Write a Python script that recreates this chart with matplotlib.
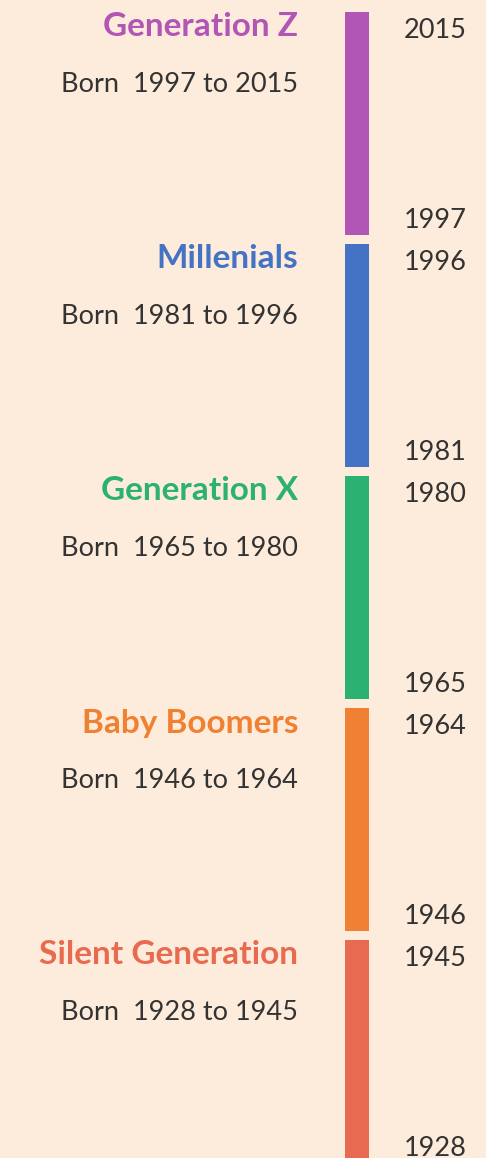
import matplotlib
matplotlib.use("Agg")
import matplotlib.pyplot as plt

# generation data (top to bottom)
generations = ["Generation Z", "Millenials", "Generation X", "Baby Boomers", "Silent Generation"]
start_years = [1997, 1981, 1965, 1946, 1928]
end_years = [2015, 1996, 1980, 1964, 1945]
colors = ["#B156B5", "#4472C4", "#2BB272", "#F08032", "#E86A50"]

bg = "#FDECDC"
text_dark = "#333333"

plt.rcParams['font.family'] = ['Lato', 'DejaVu Sans']

W, H = 486, 1158
fig = plt.figure(figsize=(W / 100, H / 100), dpi=100, facecolor=bg)
ax = fig.add_axes([0, 0, 1, 1])
ax.set_facecolor(bg)

slot = 232.0  # pixels per generation slot
ax.set_xlim(0, W)
ax.set_ylim((H - 12) / slot, -12 / slot)
ax.axis('off')

bar_x = 357
bar_w = 24
seg_h = 223 / slot

for i, name in enumerate(generations):
    ax.bar(bar_x, seg_h, width=bar_w, bottom=i, color=colors[i], align='center')
    ax.text(298, i + 15 / slot, name, ha='right', va='center',
            fontsize=24, fontweight='bold', color=colors[i])
    ax.text(298, i + 72 / slot, "Born  {} to {}".format(start_years[i], end_years[i]),
            ha='right', va='center', fontsize=19.5, color=text_dark)
    ax.text(404, i + 19 / slot, str(end_years[i]), ha='left', va='center',
            fontsize=19.5, color=text_dark)
    ax.text(404, i + 208 / slot, str(start_years[i]), ha='left', va='center',
            fontsize=19.5, color=text_dark)

fig.savefig("out.png", dpi=100, facecolor=bg)
